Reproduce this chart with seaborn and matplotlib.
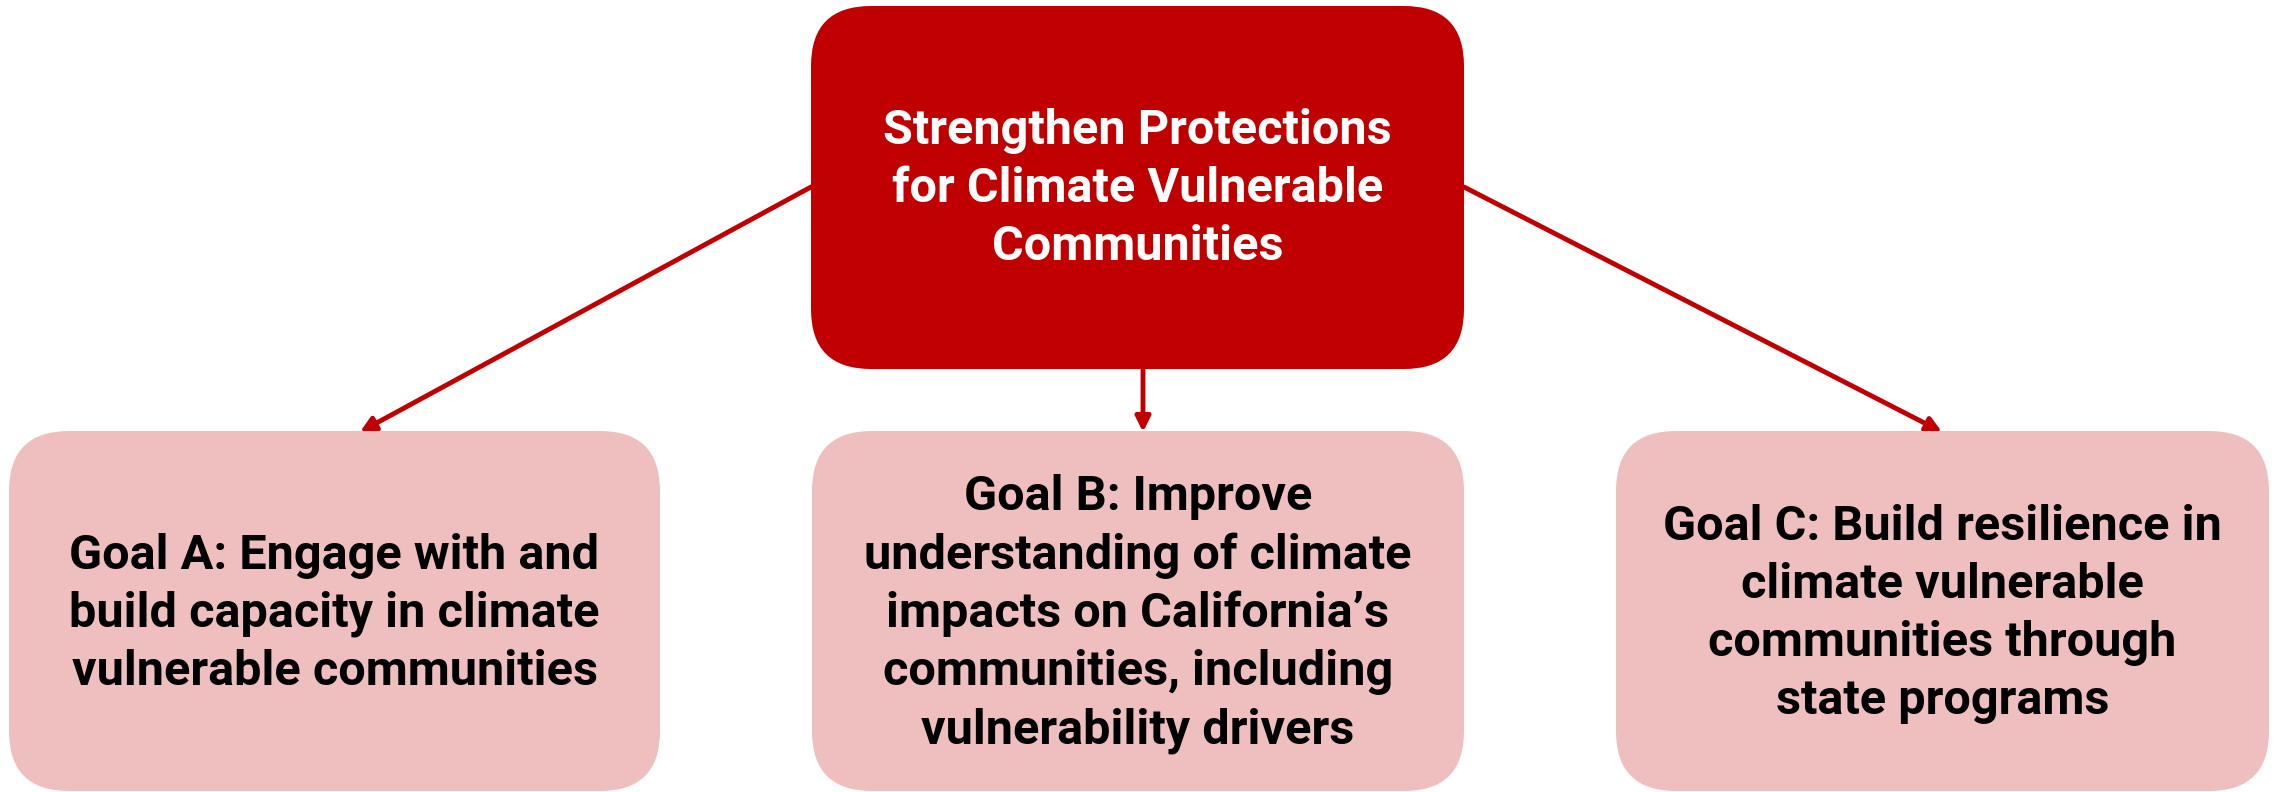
import matplotlib.pyplot as plt
import seaborn as sns
from matplotlib.patches import FancyBboxPatch

sns.set_theme(style="white")
plt.rcParams['font.family'] = ['Roboto', 'DejaVu Sans']

# boxes: labels and colours
top_label = "Strengthen Protections\nfor Climate Vulnerable\nCommunities"
goal_labels = [
    "Goal A: Engage with and\nbuild capacity in climate\nvulnerable communities",
    "Goal B: Improve\nunderstanding of climate\nimpacts on California\u2019s\ncommunities, including\nvulnerability drivers",
    "Goal C: Build resilience in\nclimate vulnerable\ncommunities through\nstate programs",
]
top_color = "#C00000"
goal_color = "#EFBFBF"
arrow_color = "#C00000"

W, H = 2279, 792
fig = plt.figure(figsize=(W / 100, H / 100), dpi=100)
ax = fig.add_axes([0, 0, 1, 1])
ax.set_xlim(0, W)
ax.set_ylim(H, 0)
ax.axis("off")

# layout in pixels (x0, y0, x1, y1)
top_box = (811, 6, 1464, 369)
goal_boxes = [(9, 431, 660, 791), (812, 431, 1464, 791), (1616, 431, 2269, 791)]
rad = 60


def draw_box(b, color):
    x0, y0, x1, y1 = b
    p = FancyBboxPatch((x0, y0), x1 - x0, y1 - y0,
                       boxstyle=f"round,pad=0,rounding_size={rad}",
                       fc=color, ec="none", zorder=2)
    ax.add_patch(p)


draw_box(top_box, top_color)
ax.text((top_box[0] + top_box[2]) / 2, 189, top_label, color="white",
        fontsize=35, fontweight="bold", ha="center", va="center",
        linespacing=1.33, zorder=3)

for b, lab in zip(goal_boxes, goal_labels):
    draw_box(b, goal_color)
    ax.text((b[0] + b[2]) / 2, 614, lab, color="black",
            fontsize=35, fontweight="bold", ha="center", va="center",
            linespacing=1.33, zorder=3)

# arrows from the top box to each goal
starts = [(811, 187), (1143, 369), (1464, 187)]
ends = [(360, 432), (1143, 432), (1942, 432)]
for s, e in zip(starts, ends):
    ax.annotate("", xy=e, xytext=s,
                arrowprops=dict(arrowstyle="-|>", color=arrow_color, lw=3.5,
                                mutation_scale=22, shrinkA=0, shrinkB=0),
                zorder=1)

fig.savefig("out.png", dpi=100, facecolor="white")
